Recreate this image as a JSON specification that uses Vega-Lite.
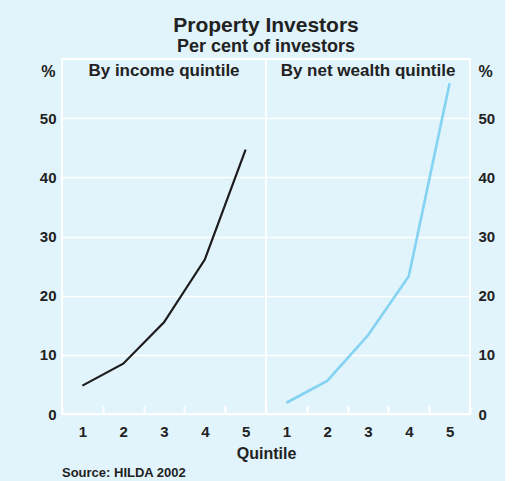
{
  "$schema": "https://vega.github.io/schema/vega-lite/v6.json",
  "width": 408,
  "height": 355,
  "padding": {"left": 39, "top": 15, "right": 10, "bottom": 5},
  "background": "#e1f3fb",
  "title": {
    "text": "Property Investors",
    "subtitle": "Per cent of investors",
    "fontSize": 21,
    "subtitleFontSize": 18,
    "font": "Liberation Sans",
    "subtitleFont": "Liberation Sans",
    "fontWeight": "bold",
    "subtitleFontWeight": "bold",
    "color": "#222222",
    "subtitleColor": "#222222",
    "anchor": "middle",
    "subtitlePadding": 2,
    "offset": 2
  },
  "datasets": {
    "income": [
      {"q": "i1", "v": 4.8},
      {"q": "i2", "v": 8.5},
      {"q": "i3", "v": 15.5},
      {"q": "i4", "v": 26.1},
      {"q": "i5", "v": 44.7}
    ],
    "wealth": [
      {"q": "w1", "v": 1.9},
      {"q": "w2", "v": 5.6},
      {"q": "w3", "v": 13.3},
      {"q": "w4", "v": 23.3},
      {"q": "w5", "v": 55.9}
    ],
    "panels": [
      {"q": "i3", "label": "By income quintile"},
      {"q": "w3", "label": "By net wealth quintile"}
    ],
    "source": [
      {"q": "i1", "label": "Source: HILDA 2002"}
    ]
  },
  "layer": [
    {
      "data": {"name": "income"},
      "mark": {"type": "line", "color": "#1c1c1c", "strokeWidth": 2.2},
      "encoding": {
        "x": {
          "field": "q",
          "type": "ordinal",
          "bandPosition": 0.5,
          "scale": {
            "type": "band",
            "domain": ["i1", "i2", "i3", "i4", "i5", "w1", "w2", "w3", "w4", "w5"],
            "paddingInner": 0,
            "paddingOuter": 0
          },
          "axis": {
            "title": "Quintile",
            "labelExpr": "substring(datum.label, 1)",
            "labelAngle": 0,
            "tickBand": "extent",
            "tickColor": "white",
            "tickWidth": 2,
            "tickSize": -9,
            "labelPadding": 19,
            "domain": false,
            "grid": false,
            "titlePadding": 6
          }
        },
        "y": {
          "field": "v",
          "type": "quantitative",
          "scale": {"domain": [0, 60], "nice": false},
          "axis": {
            "orient": "left",
            "values": [0, 10, 20, 30, 40, 50],
            "grid": true,
            "gridColor": "white",
            "gridWidth": 1.5,
            "domain": false,
            "ticks": false,
            "labelPadding": 6,
            "title": "%",
            "titleAngle": 0,
            "titleX": -7,
            "titleY": 12,
            "titleAlign": "right",
            "titleBaseline": "middle"
          }
        }
      }
    },
    {
      "data": {"name": "wealth"},
      "mark": {"type": "line", "color": "#84d3f2", "strokeWidth": 2.6},
      "encoding": {
        "x": {"field": "q", "type": "ordinal", "bandPosition": 0.5},
        "y": {
          "field": "v",
          "type": "quantitative",
          "scale": {"domain": [0, 60], "nice": false},
          "axis": {
            "orient": "right",
            "values": [0, 10, 20, 30, 40, 50],
            "grid": false,
            "domain": false,
            "ticks": false,
            "labelPadding": 8,
            "title": "%",
            "titleAngle": 0,
            "titleX": 8,
            "titleY": 12,
            "titleAlign": "left",
            "titleBaseline": "middle"
          }
        }
      }
    },
    {
      "data": {"values": [{}]},
      "mark": {"type": "rule", "color": "white", "strokeWidth": 2},
      "encoding": {
        "x": {"datum": "w1", "type": "ordinal", "bandPosition": 0}
      }
    },
    {
      "data": {"name": "panels"},
      "mark": {"type": "text", "font": "Liberation Sans", "fontWeight": "bold", "fontSize": 17, "color": "#222222", "baseline": "middle", "align": "center"},
      "encoding": {
        "x": {"field": "q", "type": "ordinal", "bandPosition": 0.5},
        "y": {"datum": 58, "type": "quantitative", "scale": {"domain": [0, 60], "nice": false}, "axis": null},
        "text": {"field": "label"}
      }
    },
    {
      "data": {"name": "source"},
      "mark": {"type": "text", "font": "Liberation Sans", "fontWeight": "bold", "fontSize": 13, "color": "#222222", "baseline": "alphabetic", "align": "left"},
      "encoding": {
        "x": {"field": "q", "type": "ordinal", "bandPosition": 0},
        "y": {"datum": -10.6, "type": "quantitative", "scale": {"domain": [0, 60], "nice": false}, "axis": null},
        "text": {"field": "label"}
      }
    }
  ],
  "resolve": {"scale": {"y": "independent"}, "axis": {"y": "independent"}},
  "config": {
    "view": {"stroke": "white", "strokeWidth": 2},
    "font": "Liberation Sans",
    "axis": {
      "labelFont": "Liberation Sans",
      "labelFontWeight": "bold",
      "labelFontSize": 15,
      "labelColor": "#222222",
      "titleFont": "Liberation Sans",
      "titleFontWeight": "bold",
      "titleFontSize": 16,
      "titleColor": "#222222"
    }
  }
}
